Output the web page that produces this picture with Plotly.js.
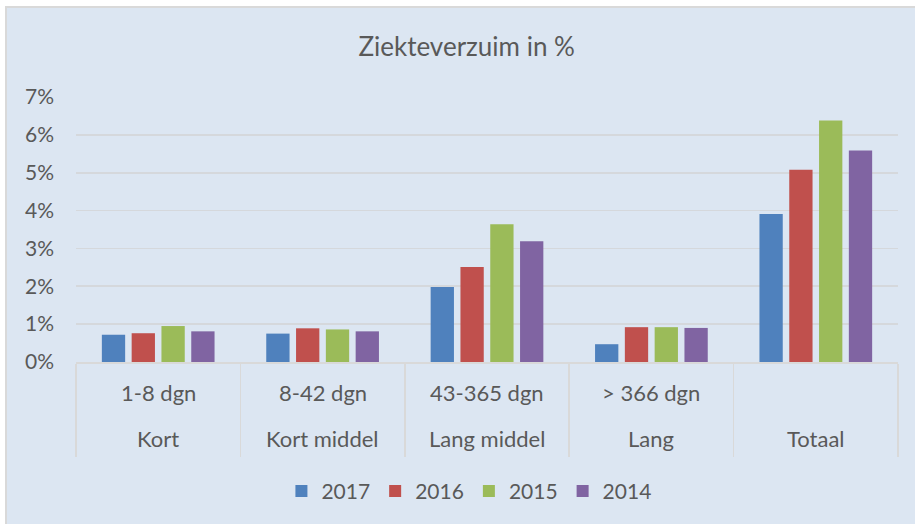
<!DOCTYPE html>
<html>
<head>
<meta charset="utf-8">
<script src="https://cdn.plot.ly/plotly-3.0.1.min.js"></script>
<style>
  html, body { margin: 0; padding: 0; background: #ffffff; }
  #chart { position: absolute; left: 0; top: 0; width: 915px; height: 524px; }
  .ov { position: absolute; pointer-events: none; }
</style>
</head>
<body>
<div id="chart"></div>
<div class="ov" style="left:0;top:0;width:915px;height:6px;background:#ffffff;"></div>
<div class="ov" style="left:0;top:0;width:5px;height:524px;background:#ffffff;"></div>
<div class="ov" style="left:5px;top:6px;width:910px;height:2px;background:#d9d9d9;"></div>
<div class="ov" style="left:5px;top:6px;width:2px;height:518px;background:#d9d9d9;"></div>
<script>
// ---- data ----
var groups = ["Kort", "Kort middel", "Lang middel", "Lang", "Totaal"];
var subLabels = ["1-8 dgn", "8-42 dgn", "43-365 dgn", "> 366 dgn", ""];
var seriesNames = ["2017", "2016", "2015", "2014"];
var v2017 = [0.0072, 0.0075, 0.0198, 0.0047, 0.0391];
var v2016 = [0.0076, 0.0089, 0.0251, 0.0092, 0.0508];
var v2015 = [0.0095, 0.0086, 0.0364, 0.0092, 0.0638];
var v2014 = [0.0081, 0.0081, 0.0319, 0.0090, 0.0559];
var colors = ["#4f81bd", "#c0504d", "#9bbb59", "#8064a2"];
var yTicks = [0, 0.01, 0.02, 0.03, 0.04, 0.05, 0.06, 0.07];
var yTickText = ["0%", "1%", "2%", "3%", "4%", "5%", "6%", "7%"];

var seriesValues = [v2017, v2016, v2015, v2014];
var fontFam = "Lato, 'Open Sans', sans-serif";
var txtColor = "#595959";

var traces = seriesNames.map(function (name, i) {
  return {
    type: "bar",
    name: name,
    x: groups,
    y: seriesValues[i],
    marker: { color: colors[i], line: { width: 0 } },
    hoverinfo: "x+y+name"
  };
});

var annotations = [];
groups.forEach(function (g, i) {
  if (subLabels[i] !== "") {
    annotations.push({
      x: g, xref: "x", y: -0.116, yref: "paper",
      text: subLabels[i], showarrow: false, yanchor: "middle", xanchor: "center",
      font: { family: fontFam, size: 22, color: txtColor }
    });
  }
  annotations.push({
    x: g, xref: "x", y: -0.288, yref: "paper",
    text: g, showarrow: false, yanchor: "middle", xanchor: "center",
    font: { family: fontFam, size: 22, color: txtColor }
  });
});

var layout = {
  width: 915,
  height: 524,
  paper_bgcolor: "#dce6f2",
  plot_bgcolor: "#dce6f2",
  margin: { l: 76, r: 17, t: 97, b: 162, pad: 0, autoexpand: false },
  title: {
    text: "Ziekteverzuim in %",
    x: 0.51, xref: "container", xanchor: "center",
    y: 0.91, yref: "container", yanchor: "middle",
    font: { family: fontFam, size: 26, color: txtColor }
  },
  barmode: "group",
  bargap: 0.275,
  bargroupgap: 0.218,
  xaxis: {
    type: "category",
    automargin: false,
    showticklabels: false,
    showgrid: false,
    showline: true,
    linecolor: "#d9d9d9",
    linewidth: 1.5,
    ticks: "outside",
    tickson: "boundaries",
    ticklen: 93,
    tickwidth: 1.5,
    tickcolor: "#d9d9d9",
    fixedrange: true
  },
  yaxis: {
    automargin: false,
    range: [0, 0.07],
    tickvals: yTicks,
    ticktext: yTickText,
    showgrid: true,
    gridcolor: "#d5d8dc",
    gridwidth: 1.6,
    zeroline: false,
    showline: false,
    ticks: "",
    ticklabelstandoff: 21,
    tickfont: { family: fontFam, size: 21, color: txtColor },
    fixedrange: true
  },
  showlegend: true,
  legend: {
    orientation: "h",
    x: 0.478, xref: "paper", xanchor: "center",
    y: -0.488, yref: "paper", yanchor: "middle",
    font: { family: fontFam, size: 21, color: txtColor },
    bgcolor: "rgba(0,0,0,0)",
    itemwidth: 30,
    traceorder: "normal"
  },
  annotations: annotations
};

Plotly.newPlot("chart", traces, layout, { displayModeBar: false, staticPlot: true });
</script>
</body>
</html>
